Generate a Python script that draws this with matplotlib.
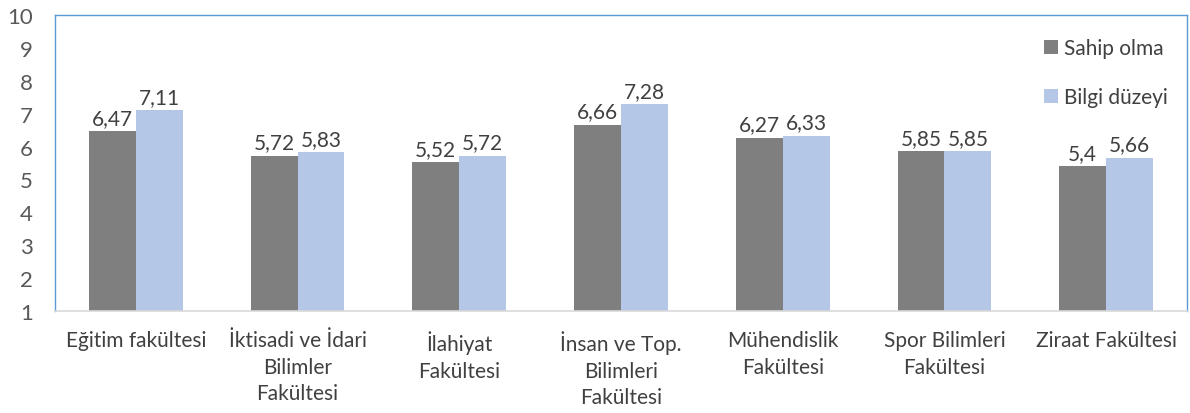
import matplotlib.pyplot as plt
import numpy as np

# --- DADOS ---
categorias = ["Eğitim fakültesi", "İktisadi ve İdari\nBilimler\nFakültesi",
              "İlahiyat\nFakültesi", "İnsan ve Top.\nBilimleri\nFakültesi",
              "Mühendislik\nFakültesi", "Spor Bilimleri\nFakültesi", "Ziraat Fakültesi"]
sahip_olma = [6.47, 5.72, 5.52, 6.66, 6.27, 5.85, 5.4]
bilgi_duzeyi = [7.11, 5.83, 5.72, 7.28, 6.33, 5.85, 5.66]
y_ticks = list(range(1, 11))

plt.rcParams['font.family'] = ['Lato', 'DejaVu Sans']

fig = plt.figure(figsize=(11.9, 4.14), dpi=100)
ax = fig.add_axes([55 / 1190, 1 - 312 / 414, 1132 / 1190, 296 / 414])

x = np.arange(len(categorias))
w = 0.29
b1 = ax.bar(x - w / 2, np.array(sahip_olma) - 1, w, bottom=1, color='#7f7f7f', label='Sahip olma')
b2 = ax.bar(x + w / 2, np.array(bilgi_duzeyi) - 1, w, bottom=1, color='#b4c7e7', label='Bilgi düzeyi')


def fmt(v):
    return f"{v:g}".replace('.', ',')


for bars, vals in ((b1, sahip_olma), (b2, bilgi_duzeyi)):
    for r, v in zip(bars, vals):
        ax.text(r.get_x() + r.get_width() / 2, v + 0.1, fmt(v), ha='center', va='bottom',
                fontsize=15, color='#404040')

ax.set_xlim(-0.5, len(categorias) - 0.5)
ax.set_ylim(1, 10)
ax.set_yticks(y_ticks)
ax.set_xticks(x)
ax.set_xticklabels(categorias, fontsize=15, color='#404040', linespacing=1.4)
ax.tick_params(axis='y', labelsize=16, labelcolor='#595959', length=0, pad=16)
ax.tick_params(axis='x', length=0, pad=14)

for s in ('top', 'left', 'right'):
    ax.spines[s].set_color('#5b9bd5')
    ax.spines[s].set_linewidth(1)
ax.spines['bottom'].set_color('#d9d9d9')
ax.spines['bottom'].set_linewidth(1.2)

leg = ax.legend(loc='upper right', bbox_to_anchor=(1.0, 0.985), frameon=False, fontsize=15,
                labelcolor='#404040', handlelength=0.7, handleheight=0.7, handletextpad=0.3,
                labelspacing=1.4)

fig.savefig("out.png", dpi=100)
